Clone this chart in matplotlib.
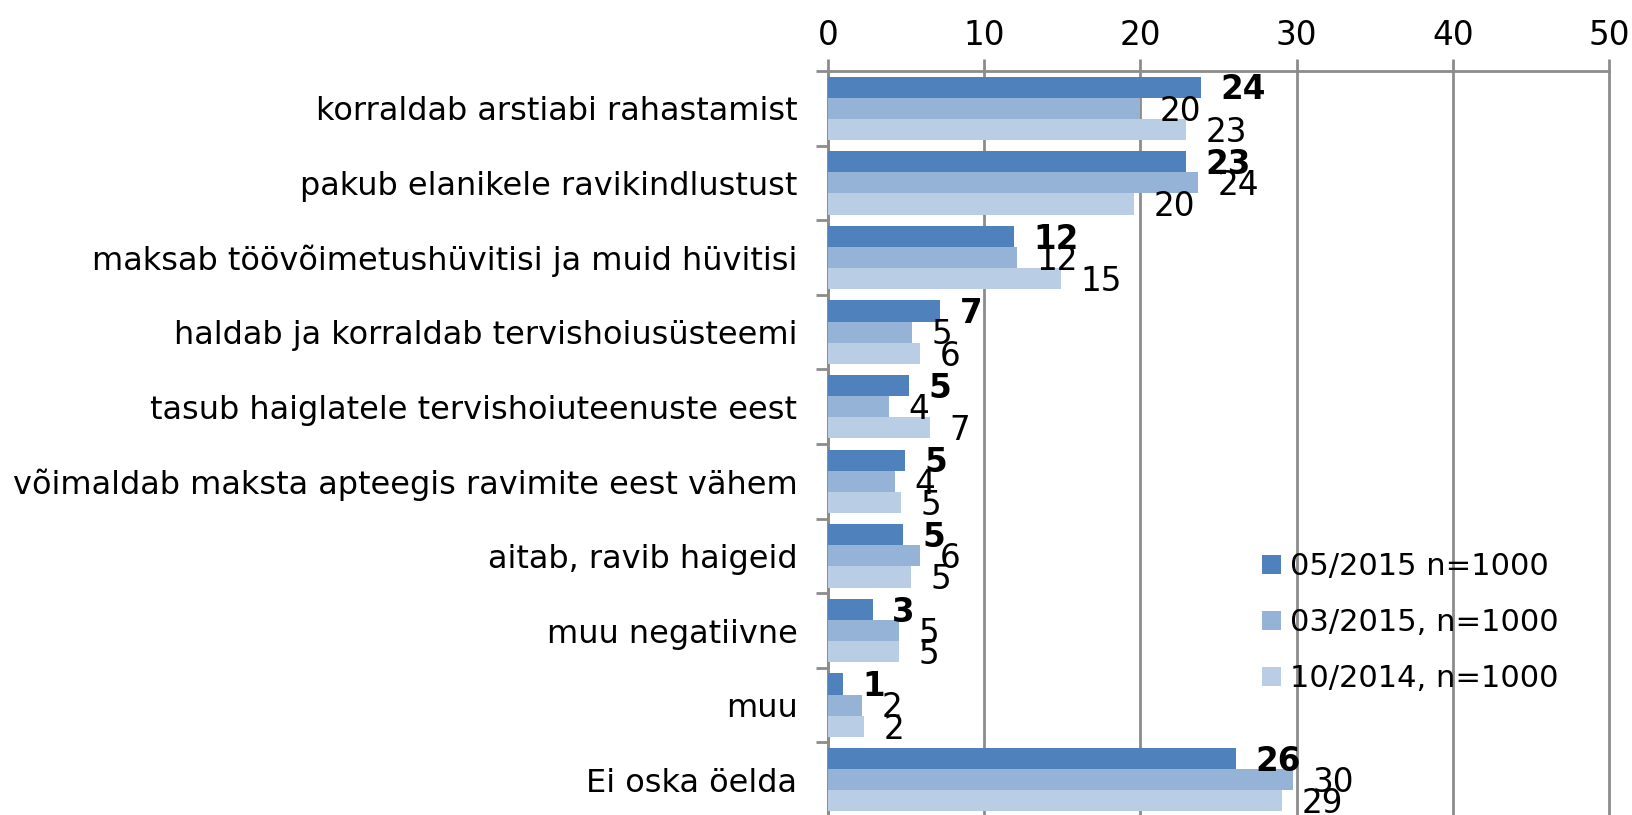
import matplotlib.pyplot as plt
import numpy as np

categories = [
    'korraldab arstiabi rahastamist',
    'pakub elanikele ravikindlustust',
    'maksab töövõimetushüvitisi ja muid hüvitisi',
    'haldab ja korraldab tervishoiusüsteemi',
    'tasub haiglatele tervishoiuteenuste eest',
    'võimaldab maksta apteegis ravimite eest vähem',
    'aitab, ravib haigeid',
    'muu negatiivne',
    'muu',
    'Ei oska öelda',
]
series_names = ['05/2015 n=1000', '03/2015, n=1000', '10/2014, n=1000']
may_2015 = [23.9, 22.9, 11.9, 7.2, 5.2, 4.9, 4.8, 2.85, 0.93, 26.1]
mar_2015 = [20.0, 23.7, 12.1, 5.4, 3.9, 4.3, 5.9, 4.53, 2.2, 29.8]
oct_2014 = [22.9, 19.6, 14.9, 5.9, 6.55, 4.7, 5.3, 4.53, 2.3, 29.05]

colors = ['#4F81BD', '#95B3D7', '#B9CDE5']
grid_col = '#8C8C8C'

plt.rcParams['font.family'] = ['DejaVu Sans']

fig = plt.figure(figsize=(16.32, 8.15), dpi=100)
ax = fig.add_axes([828 / 1632, 1 - 817 / 815, 781 / 1632, 746 / 815])

y = np.arange(len(categories))
h = 0.85 / 3
for i, (vals, name, col) in enumerate(zip([may_2015, mar_2015, oct_2014], series_names, colors)):
    pos = y - h + i * h
    ax.barh(pos, vals, height=h, color=col, label=name, zorder=3)
    for p, v in zip(pos, vals):
        ax.annotate(f'{v:.0f}', (v, p), xytext=(14, -2), textcoords='offset points',
                    ha='left', va='center', fontsize=23.5,
                    fontweight='bold' if i == 0 else 'normal', zorder=4)

ax.set_xlim(0, 50)
ax.set_ylim(len(categories) - 0.5, -0.5)
ax.set_xticks(range(0, 51, 10))
ax.xaxis.tick_top()
ax.tick_params(axis='x', direction='out', length=9, width=2, color=grid_col,
               labelsize=23.5, pad=5)
ax.grid(axis='x', color=grid_col, linewidth=2, zorder=0)
for line in ax.get_xgridlines():
    line.set_clip_on(False)

ax.set_yticks(np.arange(-0.5, len(categories), 1.0))
ax.set_yticklabels([])
ax.set_yticks(y, minor=True)
ax.set_yticklabels(categories, minor=True, fontsize=23)
ax.tick_params(axis='y', which='major', direction='out', length=9, width=2, color=grid_col)
ax.tick_params(axis='y', which='minor', length=0, pad=22)

for s in ['bottom', 'right']:
    ax.spines[s].set_visible(False)
for s in ['top', 'left']:
    ax.spines[s].set_color(grid_col)
    ax.spines[s].set_linewidth(2)

leg = ax.legend(loc='upper left', bbox_to_anchor=(1250 / 1632, 1 - 540 / 815),
                bbox_transform=fig.transFigure, frameon=False, fontsize=22,
                handlelength=0.6, handleheight=0.6, handletextpad=0.3,
                labelspacing=0.88, borderaxespad=0)

fig.savefig('out.png', dpi=100)
